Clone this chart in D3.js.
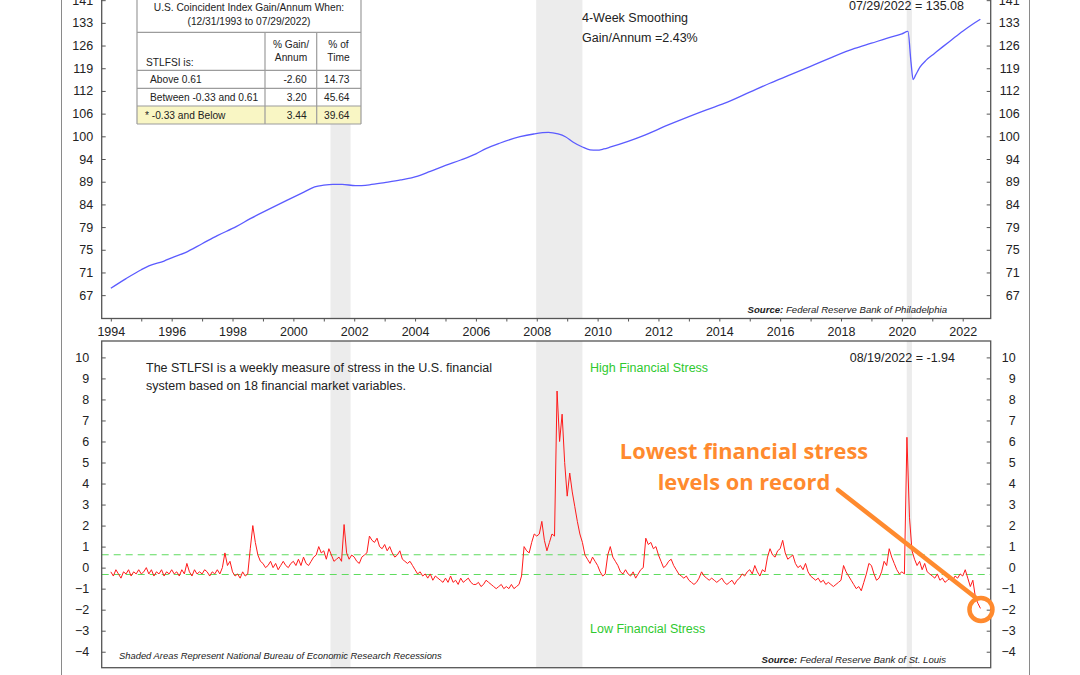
<!DOCTYPE html>
<html><head><meta charset="utf-8">
<script src="https://cdn.jsdelivr.net/npm/d3@7/dist/d3.min.js"></script>
<style>
body{margin:0;background:#fff;}
svg{display:block;font-family:"Liberation Sans",Arial,sans-serif;}
</style>
</head><body>
<svg id="c" width="1080" height="675"></svg>
<script>
// ---------- DATA ----------
// U.S. Coincident Index (Philadelphia Fed), 4-week smoothing (decimal year, value)
const coinDates = [1994.0,1994.5,1995.0,1995.25,1995.75,1996.0,1996.45,1997.0,1997.5,1998.12,1998.6,1999.25,1999.8,2000.36,2000.7,2001.0,2001.3,2001.6,2002.04,2002.5,2003.0,2003.53,2004.09,2004.5,2005.0,2005.5,2006.0,2006.33,2006.8,2007.45,2007.9,2008.38,2008.7,2008.94,2009.2,2009.5,2009.75,2009.97,2010.2,2010.43,2011.0,2011.55,2012.3,2013.0,2013.6,2014.16,2015.0,2015.66,2016.3,2017.0,2017.7,2018.45,2019.0,2019.5,2020.0,2020.2,2020.3,2020.37,2020.45,2020.6,2020.8,2021.07,2021.35,2021.62,2022.0,2022.3,2022.58];
const coinValues = [67.7,69.4,71.0,71.7,72.6,73.2,74.2,75.9,77.5,79.3,81.0,83.1,84.9,86.7,87.8,88.2,88.4,88.4,88.1,88.3,88.8,89.4,90.3,91.4,92.8,94.1,95.6,96.9,98.3,99.9,100.6,101.0,100.6,99.9,98.5,97.3,96.6,96.5,96.8,97.3,98.7,100.3,102.9,105.2,107.1,108.8,112.0,114.6,117.0,119.7,122.5,125.3,127.0,128.6,130.1,130.9,121.0,115.7,117.0,119.5,121.6,123.7,125.9,128.0,131.0,133.2,135.08];

// St. Louis Fed Financial Stress Index, monthly readings from Jan 1994 to Aug 2022
const stressStartYear = 1994;
const stressValues = [
 -0.2,-0.4,-0.1,-0.3,-0.5,-0.2,-0.3,-0.1,-0.4,-0.2,-0.3,-0.1,
 -0.3,-0.2,0.0,-0.3,-0.1,-0.4,-0.2,-0.3,-0.1,-0.4,-0.2,-0.3,
 -0.1,-0.3,-0.2,-0.4,-0.1,-0.3,0.2,-0.2,-0.4,-0.1,-0.3,-0.2,
 -0.3,-0.1,-0.2,-0.4,-0.2,-0.3,-0.1,-0.3,0.0,0.7,0.1,0.3,
 -0.2,-0.4,-0.3,-0.5,-0.2,-0.4,-0.3,0.9,2.0,1.2,0.6,0.3,
 0.2,0.0,0.1,0.3,0.0,0.2,-0.1,0.1,0.3,0.1,0.0,0.2,
 0.3,0.1,0.4,0.1,0.5,0.2,0.1,0.3,0.5,0.6,1.0,0.7,
 0.8,0.4,0.9,0.6,0.3,0.4,0.5,0.3,2.05,0.7,0.4,0.6,
 0.5,0.3,0.2,0.5,0.6,0.7,1.5,1.3,1.2,1.4,1.0,0.9,
 1.1,0.8,1.0,0.7,0.5,0.6,0.8,0.4,0.3,0.2,0.3,0.1,
 -0.1,-0.3,-0.2,-0.4,-0.3,-0.5,-0.3,-0.6,-0.4,-0.5,-0.6,-0.7,
 -0.5,-0.7,-0.4,-0.7,-0.6,-0.8,-0.5,-0.7,-0.6,-0.5,-0.7,-0.8,
 -0.8,-0.7,-0.9,-0.8,-0.6,-0.7,-0.8,-0.9,-1.0,-0.9,-0.8,-1.0,
 -0.9,-1.0,-0.8,-1.0,-0.9,-0.8,-0.4,1.0,0.8,0.7,1.2,1.6,
 1.5,1.6,2.2,1.3,0.8,1.2,1.6,1.5,8.4,6.0,7.3,5.0,
 3.4,4.5,3.6,2.9,2.2,1.6,1.2,0.6,0.4,0.2,0.5,0.3,
 0.1,-0.2,-0.4,-0.3,0.6,1.0,0.5,0.3,0.1,-0.2,-0.3,-0.1,
 -0.3,-0.4,-0.2,-0.5,-0.3,-0.1,0.0,1.4,1.1,1.2,0.9,1.0,
 0.6,0.3,0.0,0.1,0.3,0.4,0.1,-0.1,-0.3,-0.4,-0.5,-0.4,
 -0.6,-0.7,-0.8,-0.7,-0.5,-0.2,-0.4,-0.5,-0.6,-0.5,-0.6,-0.7,
 -0.6,-0.5,-0.7,-0.8,-0.7,-0.6,-0.8,-0.6,-0.5,-0.3,-0.4,-0.2,
 -0.1,-0.3,0.1,-0.2,-0.4,-0.1,-0.2,0.5,0.9,0.6,0.5,0.8,
 0.9,1.3,0.7,0.4,0.5,0.6,0.2,0.0,0.1,-0.1,0.2,-0.2,
 -0.4,-0.5,-0.6,-0.5,-0.7,-0.6,-0.8,-0.7,-0.8,-0.9,-0.8,-0.7,
 -0.6,0.1,-0.2,-0.4,-0.6,-0.8,-1.0,-0.9,-1.1,-0.7,-0.3,0.2,
 0.1,-0.3,-0.6,-0.5,-0.2,0.3,0.1,0.9,0.5,0.2,-0.1,-0.3,
 -0.2,-0.3,6.2,2.4,0.8,0.4,0.1,0.3,-0.1,0.2,-0.2,-0.3,
 -0.4,-0.5,-0.3,-0.6,-0.5,-0.7,-0.6,-0.5,-0.6,-0.4,-0.5,-0.3,
 -0.4,-0.1,-0.5,-0.9,-0.6,-1.4,-1.7,-1.94
];

// NBER recessions
const recessionStarts = [2001.22, 2007.98, 2020.16];
const recessionEnds   = [2001.88, 2009.50, 2020.33];

// stress thresholds
const stressThresholds = [0.61, -0.33];

// ticks
const xTickYears = d3.range(1994, 2023);
const xLabelYears = [1994,1996,1998,2000,2002,2004,2006,2008,2010,2012,2014,2016,2018,2020,2022];
const topTickValues = [66.51,70.50,74.73,79.21,83.96,89.00,94.34,100,106,112.36,119.10,126.25,133.82,141.85];
const topTickLabels = ["67","71","75","79","84","89","94","100","106","112","119","126","133","141"];
const botTickValues = [-4,-3,-2,-1,0,1,2,3,4,5,6,7,8,9,10];

// table
const tableRowLabels = ["Above 0.61","Between -0.33 and 0.61","* -0.33 and Below"];
const tableGain = ["-2.60","3.20","3.44"];
const tableTime = ["14.73","45.64","39.64"];

// ---------- LAYOUT ----------
const svg = d3.select("#c");
const X0 = 101.7, X1 = 990.7;
const TOP = {t:-10, b:318.5}, BOT = {t:341, b:667.7};
const axisCol = "#555";

const x = d3.scaleLinear().domain([1993.70, 2022.92]).range([X0, X1]);
const yTop = d3.scaleLog().domain([62.64, 145.6]).range([TOP.b, TOP.t]);
const yBot = d3.scaleLinear().domain([-4.76, 10.78]).range([BOT.b, BOT.t]);

// outer frame
svg.append("rect").attr("x",61.5).attr("y",-5).attr("width",968).attr("height",690)
  .attr("fill","none").attr("stroke","#8a8a8a").attr("stroke-width",1);

const recs = recessionStarts.map((s,i)=>({s, e:recessionEnds[i]}));
[[TOP],[BOT]].forEach(([p])=>{
  svg.append("g").selectAll("rect").data(recs).join("rect")
    .attr("x", d=>x(d.s)).attr("width", d=>x(d.e)-x(d.s))
    .attr("y", p.t).attr("height", p.b-p.t).attr("fill","#ececec");
});

// ---------- TOP PANEL ----------
const coin = coinDates.map((d,i)=>({d, v:coinValues[i]}));
svg.append("path").datum(coin)
  .attr("fill","none").attr("stroke","#5b5bff").attr("stroke-width",1.3)
  .attr("d", d3.line().x(d=>x(d.d)).y(d=>yTop(d.v)).curve(d3.curveMonotoneX));

svg.append("rect").attr("x",X0).attr("y",TOP.t).attr("width",X1-X0).attr("height",TOP.b-TOP.t)
  .attr("fill","none").attr("stroke",axisCol).attr("stroke-width",1.3);

const fmtTop = v => topTickLabels[topTickValues.indexOf(v)];
const gTL = svg.append("g").attr("transform",`translate(${X0},0)`)
  .call(d3.axisLeft(yTop).tickValues(topTickValues).tickFormat(fmtTop).tickSize(-4).tickPadding(8.5));
const gTR = svg.append("g").attr("transform",`translate(${X1},0)`)
  .call(d3.axisRight(yTop).tickValues(topTickValues).tickFormat(fmtTop).tickSize(-4).tickPadding(29));
gTR.selectAll("text").attr("text-anchor","end");

const gX = svg.append("g").attr("transform",`translate(0,${TOP.b})`)
  .call(d3.axisBottom(x).tickValues(xTickYears).tickFormat(d=>xLabelYears.includes(d)?String(d):"").tickSize(3).tickPadding(6));

// ---------- BOTTOM PANEL ----------
const stress = stressValues.map((v,i)=>({d: stressStartYear + i/12, v}));
svg.append("g").selectAll("line").data(stressThresholds).join("line")
  .attr("x1",X0).attr("x2",X1).attr("y1",d=>yBot(d)).attr("y2",d=>yBot(d))
  .attr("stroke","#5fdc5f").attr("stroke-width",1.1).attr("stroke-dasharray","7,5");
svg.append("path").datum(stress)
  .attr("fill","none").attr("stroke","#ff1a1a").attr("stroke-width",1)
  .attr("d", d3.line().x(d=>x(d.d)).y(d=>yBot(d.v)));

svg.append("rect").attr("x",X0).attr("y",BOT.t).attr("width",X1-X0).attr("height",BOT.b-BOT.t)
  .attr("fill","none").attr("stroke",axisCol).attr("stroke-width",1.3);

const gBL = svg.append("g").attr("transform",`translate(${X0},0)`)
  .call(d3.axisLeft(yBot).tickValues(botTickValues).tickFormat(d3.format("d")).tickSize(-4).tickPadding(12.5));
const gBR = svg.append("g").attr("transform",`translate(${X1},0)`)
  .call(d3.axisRight(yBot).tickValues(botTickValues).tickFormat(d3.format("d")).tickSize(-4).tickPadding(25));
gBR.selectAll("text").attr("text-anchor","end");

[gTL,gTR,gX,gBL,gBR].forEach(g=>{
  g.select(".domain").remove();
  g.selectAll(".tick line").attr("stroke",axisCol);
  g.selectAll("text").attr("font-size",12.5).attr("fill","#222").attr("font-family","Liberation Sans, Arial, sans-serif");
});

// ---------- TEXTS ----------
function txt(xp, yp, s, o={}){
  const t = svg.append("text").attr("x",xp).attr("y",yp).text(s)
    .attr("font-size", o.size||12.5).attr("fill", o.fill||"#222");
  if(o.anchor) t.attr("text-anchor",o.anchor);
  if(o.style) t.attr("font-style",o.style);
  if(o.weight) t.attr("font-weight",o.weight);
  if(o.family) t.attr("font-family",o.family);
  return t;
}
txt(582, 22, "4-Week Smoothing");
txt(582, 42, "Gain/Annum =2.43%");
txt(964, 10, "07/29/2022 = 135.08", {anchor:"end"});
txt(146, 372, "The STLFSI is a weekly measure of stress in the U.S. financial");
txt(146, 390, "system based on 18 financial market variables.");
txt(590, 372, "High Financial Stress", {fill:"#2fc92f"});
txt(590, 633, "Low Financial Stress", {fill:"#2fc92f"});
txt(955, 362, "08/19/2022 = -1.94", {anchor:"end"});
txt(119, 659, "Shaded Areas Represent National Bureau of Economic Research Recessions", {size:9.4, style:"italic"});

function source(xr, yp, s){
  const t = svg.append("text").attr("x",xr).attr("y",yp).attr("text-anchor","end")
    .attr("font-size",9.6).attr("font-style","italic").attr("fill","#222");
  t.append("tspan").attr("font-weight","bold").text("Source:");
  t.append("tspan").text("  " + s);
}
source(947, 313, "Federal Reserve Bank of Philadelphia");
source(946, 663, "Federal Reserve Bank of St. Louis");

// ---------- TABLE ----------
const T = {x0:137, x1:361, c1:265, c2:316.7, yTop:-6, yH:32.3, yR1:70.3, yR2:88.3, yR3:106, yB:124};
const tg = svg.append("g");
tg.append("rect").attr("x",T.x0).attr("y",T.yTop).attr("width",T.x1-T.x0).attr("height",T.yB-T.yTop)
  .attr("fill","#fff");
tg.append("rect").attr("x",T.x0).attr("y",T.yR3).attr("width",T.x1-T.x0).attr("height",T.yB-T.yR3)
  .attr("fill","#f9f6c4");
const lc = "#9c9c9c";
[[T.x0,T.yTop,T.x0,T.yB],[T.x1,T.yTop,T.x1,T.yB],[T.x0,T.yB,T.x1,T.yB],
 [T.x0,T.yH,T.x1,T.yH],[T.x0,T.yR1,T.x1,T.yR1],[T.x0,T.yR2,T.x1,T.yR2],[T.x0,T.yR3,T.x1,T.yR3],
 [T.c1,T.yH,T.c1,T.yB],[T.c2,T.yH,T.c2,T.yB]].forEach(l=>{
  tg.append("line").attr("x1",l[0]).attr("y1",l[1]).attr("x2",l[2]).attr("y2",l[3])
    .attr("stroke",lc).attr("stroke-width",1.2);
});
const ts = 10.2;
function ttxt(xp,yp,s,anchor){ return tg.append("text").attr("x",xp).attr("y",yp).attr("font-size",ts)
  .attr("fill","#222").attr("text-anchor",anchor||"start").text(s); }
ttxt(249, 11, "U.S. Coincident Index Gain/Annum When:", "middle");
ttxt(249, 25, "(12/31/1993 to 07/29/2022)", "middle");
ttxt(291, 48, "% Gain/", "middle");
ttxt(291, 61, "Annum", "middle");
ttxt(338.5, 48, "% of", "middle");
ttxt(338.5, 61, "Time", "middle");
ttxt(146, 66, "STLFSI is:");
const rowY = [83, 101, 119];
tableRowLabels.forEach((s,i)=>{
  ttxt(i===2?145:150, rowY[i], s);
  ttxt(306.7, rowY[i], tableGain[i], "end");
  ttxt(349.5, rowY[i], tableTime[i], "end");
});

// ---------- ANNOTATION ----------
const orange = "#ff8a2e";
const lastPt = stress[stress.length-1];
svg.append("text").attr("x",744).attr("y",459).attr("text-anchor","middle")
  .attr("font-family","Open Sans, sans-serif").attr("font-weight",700).attr("font-size",21.8)
  .attr("fill",orange).text("Lowest financial stress");
svg.append("text").attr("x",744).attr("y",490).attr("text-anchor","middle")
  .attr("font-family","Open Sans, sans-serif").attr("font-weight",700).attr("font-size",21.8)
  .attr("fill",orange).text("levels on record");
svg.append("line").attr("x1",838).attr("y1",490).attr("x2",x(lastPt.d)-5).attr("y2",yBot(lastPt.v)-11)
  .attr("stroke",orange).attr("stroke-width",4.5).attr("stroke-linecap","round");
svg.append("circle").attr("cx",x(lastPt.d)+0.5).attr("cy",yBot(lastPt.v)+1).attr("r",11.5)
  .attr("fill","none").attr("stroke",orange).attr("stroke-width",4.5);
</script>
</body></html>
